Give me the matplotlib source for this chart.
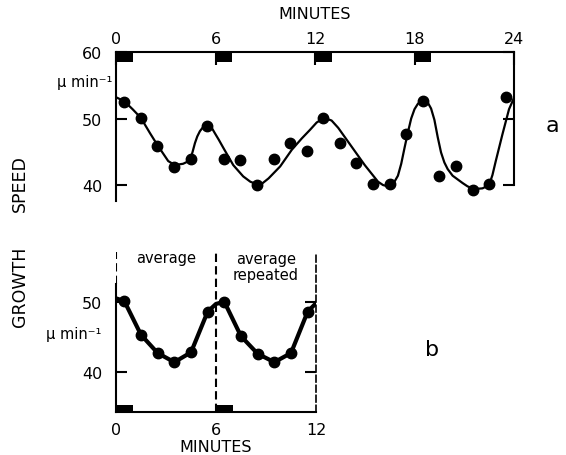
import numpy as np
import matplotlib.pyplot as plt

# a: growth speed measured every minute, with the smooth line drawn through them
t_pts = [0.5, 1.5, 2.5, 3.5, 4.5, 5.5, 6.5, 7.5, 8.5, 9.5, 10.5, 11.5,
         12.5, 13.5, 14.5, 15.5, 16.5, 17.5, 18.5, 19.5, 20.5, 21.5, 22.5, 23.5]
v_pts = [52.5, 50.1, 45.9, 42.7, 43.9, 48.9, 43.9, 43.8, 40.0, 43.9, 46.3, 45.1,
         50.1, 46.3, 43.3, 40.2, 40.1, 47.7, 52.7, 41.3, 42.8, 39.3, 40.2, 53.3]

t_curve = [0, 0.5, 1.0, 1.5, 2.05, 2.5, 3.15, 3.55, 4.05, 4.3, 4.5, 4.62, 4.76, 4.9, 5.06, 5.25,
           5.5, 5.75, 5.96, 6.2, 6.47, 7.07, 7.67, 8.1, 8.5, 8.85, 9.2, 9.9, 10.6, 11.2, 11.7,
           12.1, 12.55, 13.0, 13.4, 14.2, 15.0, 15.8, 16.1, 16.4, 16.7, 17.0, 17.2, 17.4, 17.6,
           17.8, 18.0, 18.2, 18.4, 18.6, 18.8, 19.0, 19.2, 19.4, 19.6, 19.8, 20.0, 20.3,
           20.9, 21.2, 21.6, 22.1, 22.5, 22.7, 22.9, 23.3, 23.7, 24.0]
v_curve = [53.2, 52.6, 51.4, 50.1, 47.8, 46.0, 43.6, 43.0, 43.2, 43.5, 44.0, 45.0, 46.3, 47.3, 48.1, 48.7,
           49.1, 48.7, 47.8, 46.8, 45.6, 43.0, 41.3, 40.5, 40.1, 40.3, 41.0, 42.8, 45.3, 47.0, 48.3,
           49.4, 50.1, 49.7, 48.6, 45.8, 43.0, 40.5, 40.0, 39.8, 40.1, 41.4, 43.2, 45.6, 47.9,
           50.0, 51.4, 52.2, 52.6, 52.7, 52.4, 51.5, 49.8, 47.2, 44.9, 43.4, 42.4, 41.4,
           40.3, 39.8, 39.4, 39.5, 40.0, 41.5, 43.6, 47.6, 51.4, 53.1]

# b: six-minute average, shown twice
t_avg = [0.5, 1.5, 2.5, 3.5, 4.5, 5.5, 6.5, 7.5, 8.5, 9.5, 10.5, 11.5]
v_avg = [50.1, 45.3, 42.7, 41.4, 42.8, 48.6, 50.0, 45.1, 42.6, 41.4, 42.7, 48.6]
t_avg_line = [0, 0.5, 1.5, 2.5, 3.5, 4.5, 5.5, 6.0, 6.5, 7.5, 8.5, 9.5, 10.5, 11.5, 12.0]
v_avg_line = [50.5, 50.1, 45.3, 42.7, 41.4, 42.8, 48.6, 49.7, 50.0, 45.1, 42.6, 41.4, 42.7, 48.6, 49.8]

bars_a = [0, 6, 12, 18]
bars_b = [0, 6]
ticks_a = [0, 6, 12, 18, 24]
ticks_b = [0, 6, 12]

W, H = 566, 456
fig = plt.figure(figsize=(W / 100, H / 100), dpi=100)
fs = 11.5
lw = 1.5

def px(x, y):
    return x / W, 1 - y / H

# ---- panel a
ax = fig.add_axes([116 / W, 1 - 202 / H, 398 / W, 149 / H])
ax.set_xlim(0, 24)
ax.set_ylim(37.6, 60)
ax.plot(t_curve, v_curve, color='black', lw=1.6)
ax.plot(t_pts, v_pts, 'o', color='black', ms=7.5, clip_on=False)
ax.bar(bars_a, 1.5, width=1.0, bottom=58.5, align='edge', color='black')
for s in ax.spines.values():
    s.set_linewidth(lw)
ax.spines['bottom'].set_visible(False)
ax.spines['right'].set_bounds(40, 60)
ax.xaxis.tick_top()
ax.set_xticks(ticks_a)
ax.tick_params(axis='x', direction='in', length=9, width=lw, pad=4, labelsize=fs)
ax.set_yticks([40, 50, 60])
ax.tick_params(axis='y', direction='in', length=8, width=lw, pad=10, labelsize=fs,
               right=True)
ax.text(0.5, 1.26, 'MINUTES', transform=ax.transAxes, ha='center', va='center', fontsize=fs)

# ---- panel b
bx = fig.add_axes([116 / W, 1 - 413 / H, 200 / W, 160 / H])
bx.set_xlim(0, 12)
bx.set_ylim(34.3, 57.1)
bx.plot(t_avg_line, v_avg_line, color='black', lw=3)
bx.plot(t_avg, v_avg, 'o', color='black', ms=7.5)
bx.bar(bars_b, 1.0, width=1.0, bottom=34.3, align='edge', color='black')
for s in bx.spines.values():
    s.set_linewidth(lw)
bx.spines['top'].set_visible(False)
bx.spines['left'].set_bounds(34.3, 52.5)
bx.spines['right'].set_linestyle((0, (4, 2)))
bx.spines['right'].set_linewidth(1.2)
bx.axvline(6, color='black', lw=lw, ls=(0, (4, 2)))
bx.axvline(0, ymin=(52.5 - 34.3) / (57.1 - 34.3), color='black', lw=lw, ls=(0, (4, 2)))
bx.set_xticks(ticks_b)
bx.tick_params(axis='x', length=0, pad=7, labelsize=fs)
bx.set_yticks([40, 50])
bx.tick_params(axis='y', direction='in', length=8, width=lw, pad=10, labelsize=fs,
               right=True)
bx.set_xlabel('MINUTES', fontsize=fs, labelpad=2)
bx.text(3, 56.3, 'average', ha='center', va='center', fontsize=10.5)
bx.text(9, 55.0, 'average\nrepeated', ha='center', va='center', fontsize=10.5,
        linespacing=1.1)

# ---- labels outside the axes
fig.text(*px(112, 83), 'μ min⁻¹', ha='right', va='center', fontsize=10.5)
fig.text(*px(101, 335), 'μ min⁻¹', ha='right', va='center', fontsize=10.5)
fig.text(*px(20, 184), 'SPEED', rotation=90, ha='center', va='center', fontsize=12.5)
fig.text(*px(20, 287), 'GROWTH', rotation=90, ha='center', va='center', fontsize=12.5)
fig.text(*px(552, 126), 'a', ha='center', va='center', fontsize=16)
fig.text(*px(432, 350), 'b', ha='center', va='center', fontsize=16)

fig.savefig('out.png', dpi=100)
